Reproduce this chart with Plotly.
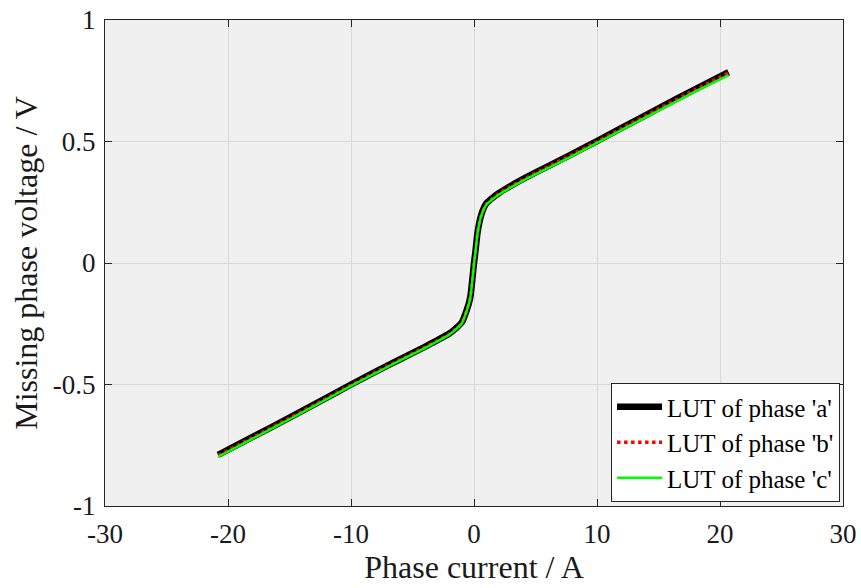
import plotly.graph_objects as go

# Phase current samples (A)
current = [-20.8, -18.0, -15.0, -12.0, -10.0, -8.0, -6.0, -4.0, -3.0, -2.0,
           -1.5, -1.0, -0.6, -0.3, -0.1, 0.0, 0.1, 0.3, 0.6, 1.0,
           1.5, 2.0, 3.0, 4.0, 6.0, 8.0, 10.0, 12.0, 15.0, 18.0, 20.7]

# Missing phase voltage lookup tables (V)
lut_a = [-0.790, -0.716, -0.636, -0.555, -0.500, -0.447, -0.396, -0.345, -0.318, -0.290,
         -0.270, -0.245, -0.195, -0.140, -0.050, 0.000, 0.040, 0.130, 0.200, 0.245,
         0.268, 0.287, 0.318, 0.346, 0.398, 0.449, 0.502, 0.556, 0.636, 0.716, 0.785]
lut_b = [-0.792, -0.718, -0.638, -0.557, -0.502, -0.449, -0.398, -0.347, -0.320, -0.292,
         -0.272, -0.247, -0.197, -0.142, -0.052, -0.002, 0.038, 0.128, 0.198, 0.243,
         0.266, 0.285, 0.316, 0.344, 0.396, 0.447, 0.500, 0.554, 0.634, 0.714, 0.783]
lut_c = [-0.798, -0.723, -0.643, -0.561, -0.506, -0.453, -0.401, -0.350, -0.323, -0.294,
         -0.274, -0.249, -0.198, -0.143, -0.053, -0.003, 0.037, 0.127, 0.196, 0.240,
         0.262, 0.281, 0.311, 0.339, 0.390, 0.441, 0.494, 0.548, 0.627, 0.706, 0.773]

x_ticks = [-30, -20, -10, 0, 10, 20, 30]
x_tick_text = ["-30", "-20", "-10", "0", "10", "20", "30"]
y_ticks = [-1, -0.5, 0, 0.5, 1]
y_tick_text = ["-1", "-0.5", "0", "0.5", "1"]

font_family = "Liberation Serif, Times New Roman, Times, serif"
axis_color = "#262626"
text_color = "#1a1a1a"

fig = go.Figure()
fig.add_trace(go.Scatter(x=current, y=lut_a, mode="lines", name="LUT of phase 'a'",
                         line=dict(color="black", width=6.5, shape="spline", smoothing=0.6)))
fig.add_trace(go.Scatter(x=current, y=lut_b, mode="lines", name="LUT of phase 'b'",
                         line=dict(color="#ff0000", width=3.5, dash="dot", shape="spline", smoothing=0.6)))
fig.add_trace(go.Scatter(x=current, y=lut_c, mode="lines", name="LUT of phase 'c'",
                         line=dict(color="#00ff00", width=2.5, shape="spline", smoothing=0.6)))

axis_common = dict(
    showline=True, linecolor=axis_color, linewidth=1, mirror="ticks",
    ticks="inside", ticklen=7, tickcolor=axis_color, tickwidth=1,
    showgrid=True, gridcolor="#d9d9d9", gridwidth=1, zeroline=False,
    automargin=False,
    tickfont=dict(family=font_family, size=27, color=text_color),
)

fig.update_layout(
    width=861, height=588,
    margin=dict(l=105, r=18, t=20, b=82),
    paper_bgcolor="white", plot_bgcolor="#f0f0f0",
    font=dict(family=font_family, color=text_color),
    xaxis=dict(range=[-30, 30], tickvals=x_ticks, ticktext=x_tick_text,
               ticklabelstandoff=4,
               title=dict(text="Phase current / A", font=dict(family=font_family, size=32), standoff=7),
               **axis_common),
    yaxis=dict(range=[-1, 1], tickvals=y_ticks, ticktext=y_tick_text,
               ticklabelstandoff=3,
               title=dict(text="Missing phase voltage / V", font=dict(family=font_family, size=32), standoff=5),
               **axis_common),
    legend=dict(x=0.996, y=0.008, xanchor="right", yanchor="bottom",
                bgcolor="white", bordercolor=axis_color, borderwidth=1,
                font=dict(family=font_family, size=25, color="black"),
                itemwidth=45, tracegroupgap=0),
    showlegend=True,
)

fig.write_html("out.html")
